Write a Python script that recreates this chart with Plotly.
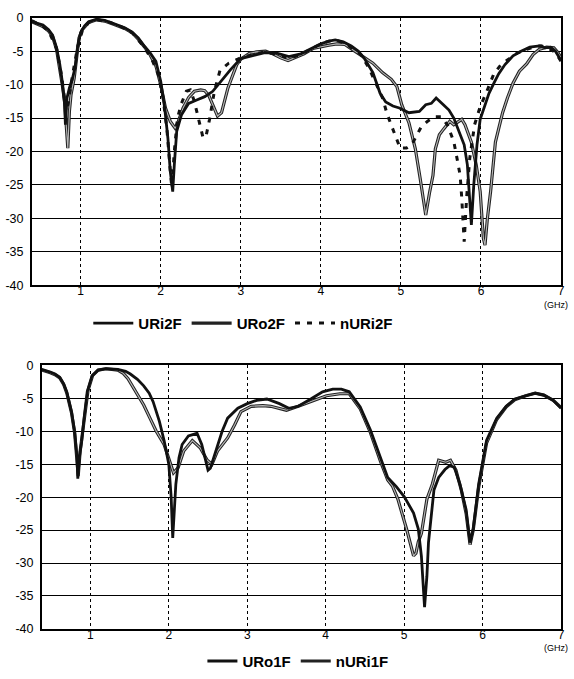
import plotly.graph_objects as go

# ---------------- top chart data ----------------
top_uri2f_x = [0.39,0.45,0.53,0.6,0.65,0.7,0.74,0.77,0.8,0.81,0.83,0.86,0.9,0.93,0.96,1.0,1.05,1.1,1.2,1.3,1.42,1.55,1.64,1.72,1.8,1.87,1.94,2.0,2.05,2.09,2.12,2.15,2.17,2.2,2.26,2.35,2.45,2.55,2.65,2.75,2.87,3.0,3.15,3.3,3.45,3.6,3.75,3.9,4.0,4.1,4.18,4.28,4.38,4.47,4.55,4.65,4.74,4.81,4.9,4.98,5.1,5.23,5.31,5.38,5.44,5.53,5.6,5.66,5.73,5.79,5.83,5.86,5.88,5.91,5.95,5.99,6.05,6.1,6.16,6.22,6.3,6.4,6.5,6.61,6.73,6.8,6.87,6.93,7.0]
top_uri2f_y = [-0.4,-0.8,-1.1,-1.8,-2.6,-4.5,-7,-9.5,-13,-16,-12,-10.5,-9,-7.5,-4.5,-2.2,-1.2,-0.6,-0.2,-0.4,-0.9,-1.5,-2.1,-3.0,-4.3,-5.3,-6.5,-9.5,-13.5,-18,-23,-26,-22,-17,-14.5,-12.8,-12.3,-11.8,-11,-9.5,-7.8,-6.1,-5.6,-5.2,-5.3,-5.8,-5.4,-4.5,-3.9,-3.5,-3.3,-3.6,-4.2,-5,-6.2,-8.2,-11.3,-12.6,-13.2,-13.5,-14.2,-14,-13,-12.8,-12,-13,-13.8,-15,-17,-19,-22,-27,-31,-25,-19,-15.2,-13,-11.3,-9.8,-8.4,-7,-5.7,-5,-4.4,-4.2,-4.5,-4.4,-5,-6.4]

top_uro2f_x = [0.39,0.45,0.53,0.6,0.65,0.7,0.74,0.77,0.8,0.82,0.84,0.86,0.88,0.92,0.95,0.98,1.02,1.1,1.2,1.3,1.42,1.55,1.64,1.72,1.8,1.87,1.94,2.0,2.06,2.12,2.18,2.22,2.28,2.35,2.42,2.5,2.55,2.6,2.66,2.71,2.76,2.8,2.84,2.89,2.95,3.0,3.11,3.2,3.31,3.4,3.5,3.59,3.7,3.79,3.9,4.0,4.1,4.2,4.3,4.4,4.5,4.57,4.65,4.77,4.88,4.95,5.01,5.1,5.18,5.24,5.31,5.36,5.4,5.43,5.48,5.53,5.61,5.66,5.72,5.76,5.8,5.88,5.94,5.99,6.03,6.05,6.08,6.12,6.18,6.27,6.33,6.4,6.48,6.57,6.65,6.73,6.82,6.91,6.96,7.0]
top_uro2f_y = [-0.6,-0.9,-1.3,-2.0,-2.8,-4.8,-7.5,-10,-12.5,-16,-19.5,-14,-11.5,-9,-6,-3,-1.8,-0.7,-0.3,-0.5,-1.0,-1.6,-2.2,-3.2,-4.4,-5.6,-7.2,-10,-13.5,-15.5,-16.5,-15.5,-13.5,-11.9,-11,-10.8,-10.9,-11.6,-13.3,-14.7,-14.2,-12.5,-10.5,-8.9,-7,-6.2,-5.3,-5.1,-5.0,-5.4,-6.0,-6.4,-5.9,-5.4,-4.6,-4.3,-4.1,-3.9,-4.0,-4.8,-5.6,-6.2,-6.8,-8.2,-9.2,-10.3,-13,-15.7,-19.6,-24,-29.5,-26,-23.6,-19.6,-17.5,-16.7,-15.5,-16,-15.5,-15.2,-16,-18.6,-22,-26,-33,-34,-30,-26,-18.6,-14.2,-12,-9.8,-8,-6.9,-5.5,-4.7,-4.4,-4.5,-5.2,-6.0]

top_nuri2f_x = [0.39,0.5,0.6,0.7,0.76,0.8,0.82,0.85,0.9,0.96,1.02,1.1,1.2,1.35,1.5,1.65,1.8,1.9,1.97,2.03,2.08,2.12,2.14,2.17,2.21,2.26,2.32,2.37,2.42,2.48,2.53,2.57,2.61,2.67,2.74,2.85,3.0,3.15,3.3,3.45,3.6,3.75,3.9,4.0,4.1,4.2,4.3,4.4,4.5,4.6,4.7,4.77,4.83,4.9,4.99,5.07,5.14,5.25,5.33,5.42,5.5,5.58,5.66,5.7,5.74,5.76,5.78,5.79,5.82,5.86,5.92,5.99,6.08,6.16,6.25,6.34,6.45,6.55,6.65,6.75,6.85,6.93,7.0]
top_nuri2f_y = [-0.5,-1.0,-2.0,-4.6,-8.5,-12,-14,-12.5,-8.5,-4.5,-2,-0.7,-0.3,-0.6,-1.3,-2.3,-4.5,-6.5,-8.5,-12,-17,-23,-25.5,-20,-15,-12.8,-11,-10.8,-12.5,-15.5,-18,-17.5,-15.2,-11,-7.9,-6.8,-6.0,-5.5,-5.1,-5.5,-6.1,-5.5,-4.5,-3.9,-3.5,-3.4,-3.8,-4.6,-5.5,-7.5,-10,-12,-14.5,-16.8,-19.5,-19.5,-18.9,-16.4,-15.5,-14.8,-14.8,-16,-18.5,-21,-23.6,-27,-30.5,-33.5,-27,-21,-16,-13.3,-10.8,-8.4,-7,-6.2,-5.3,-4.8,-4.4,-4.2,-4.6,-5.2,-6.5]

# ---------------- bottom chart data ----------------
bot_uro1f_x = [0.38,0.45,0.49,0.55,0.61,0.66,0.7,0.76,0.8,0.83,0.84,0.86,0.89,0.92,0.96,1.02,1.1,1.2,1.35,1.45,1.51,1.6,1.68,1.75,1.8,1.88,1.94,2.0,2.03,2.05,2.07,2.09,2.13,2.17,2.25,2.36,2.42,2.47,2.5,2.53,2.56,2.62,2.68,2.75,2.88,3.0,3.12,3.25,3.41,3.53,3.65,3.81,3.96,4.09,4.2,4.3,4.44,4.57,4.7,4.79,4.9,5.0,5.12,5.18,5.22,5.26,5.29,5.31,5.38,5.44,5.52,5.58,5.64,5.71,5.79,5.84,5.88,5.95,6.05,6.18,6.3,6.41,6.55,6.67,6.78,6.9,7.0]
bot_uro1f_y = [-0.6,-0.8,-1.0,-1.3,-1.8,-2.8,-4,-7,-10,-14,-17.2,-14,-11.5,-8,-4,-1.6,-0.7,-0.5,-0.6,-0.9,-1.3,-2.1,-3.1,-4.2,-5.5,-8.5,-11.4,-15,-20,-26.2,-22,-18,-14,-12,-10.7,-10.3,-12,-14.5,-15.9,-15.6,-14.4,-12,-10,-8,-6.5,-5.8,-5.3,-5.1,-5.8,-6.5,-6.2,-5.1,-4,-3.6,-3.6,-4.0,-6.3,-9.8,-14.2,-17,-18.4,-19.9,-22.4,-24.8,-29,-36.7,-32,-26.9,-18.9,-17,-15.8,-15.2,-15.5,-18,-21.9,-26.9,-24.8,-18,-11.4,-8,-6.2,-5.1,-4.6,-4.2,-4.5,-5.3,-6.5]

bot_nuri1f_x = [0.38,0.45,0.49,0.55,0.61,0.66,0.7,0.76,0.8,0.83,0.845,0.87,0.9,0.93,0.97,1.03,1.1,1.2,1.35,1.42,1.48,1.58,1.68,1.76,1.84,1.94,2.02,2.06,2.12,2.19,2.3,2.4,2.49,2.55,2.62,2.68,2.75,2.84,2.92,3.05,3.2,3.3,3.5,3.65,3.81,4.01,4.18,4.3,4.44,4.57,4.7,4.79,4.85,4.92,5.03,5.12,5.15,5.18,5.22,5.29,5.36,5.44,5.53,5.59,5.66,5.73,5.79,5.84,5.88,5.95,6.05,6.18,6.3,6.41,6.55,6.67,6.78,6.9,7.0]
bot_nuri1f_y = [-0.7,-0.9,-1.1,-1.4,-1.9,-2.9,-4.2,-7.2,-10.3,-14.5,-16.8,-13,-10.5,-7.5,-3.8,-1.5,-0.7,-0.5,-0.7,-1.2,-2,-3.9,-6,-8,-10,-12,-15,-16.3,-15.5,-13,-11.4,-12.5,-14.4,-15,-13,-12,-11,-9,-7,-6.2,-6.1,-6.2,-6.8,-6.2,-5.5,-4.6,-4.3,-4.3,-6.6,-10.2,-14.6,-17.4,-18.3,-20.3,-24.8,-28.9,-28.5,-26.8,-25.5,-20.3,-18,-14.4,-14.7,-14.4,-15.9,-19,-22.5,-27.2,-25,-18.5,-11.8,-8.2,-6.3,-5.2,-4.6,-4.2,-4.5,-5.3,-6.4]

x_ticks = [1, 2, 3, 4, 5, 6, 7]
y_ticks = [0, -5, -10, -15, -20, -25, -30, -35, -40]
y_tick_text = ["0", "-5", "-10", "-15", "-20", "-25", "-30", "-35", "-40"]

BLACK = "#111111"
INNER = "#b8b8b8"
FONT = "Liberation Sans, Arial, sans-serif"

fig = go.Figure()

# top chart
fig.add_trace(go.Scatter(x=top_uro2f_x, y=top_uro2f_y, name="URo2F", mode="lines",
                         line=dict(color="#222222", width=3.2), xaxis="x", yaxis="y",
                         legend="legend", legendrank=2))
fig.add_trace(go.Scatter(x=top_uro2f_x, y=top_uro2f_y, name="URo2F", mode="lines",
                         line=dict(color=INNER, width=1.1), xaxis="x", yaxis="y",
                         showlegend=False, hoverinfo="skip"))
fig.add_trace(go.Scatter(x=top_uri2f_x, y=top_uri2f_y, name="URi2F", mode="lines",
                         line=dict(color=BLACK, width=2.8), xaxis="x", yaxis="y",
                         legend="legend", legendrank=1))
fig.add_trace(go.Scatter(x=top_nuri2f_x, y=top_nuri2f_y, name="nURi2F", mode="lines",
                         line=dict(color=BLACK, width=3, dash="5px,7px"), xaxis="x", yaxis="y",
                         legend="legend", legendrank=3))

# bottom chart
fig.add_trace(go.Scatter(x=bot_nuri1f_x, y=bot_nuri1f_y, name="nURi1F", mode="lines",
                         line=dict(color="#222222", width=3.2), xaxis="x2", yaxis="y2",
                         legend="legend2", legendrank=2))
fig.add_trace(go.Scatter(x=bot_nuri1f_x, y=bot_nuri1f_y, name="nURi1F", mode="lines",
                         line=dict(color=INNER, width=1.1), xaxis="x2", yaxis="y2",
                         showlegend=False, hoverinfo="skip"))
fig.add_trace(go.Scatter(x=bot_uro1f_x, y=bot_uro1f_y, name="URo1F", mode="lines",
                         line=dict(color=BLACK, width=2.8), xaxis="x2", yaxis="y2",
                         legend="legend2", legendrank=1))

W, H = 574, 679

def xaxis(dom, rng, anchor):
    return dict(domain=dom, range=rng, anchor=anchor, tickmode="array", tickvals=x_ticks,
                ticks="", showgrid=True, gridcolor="#000000", gridwidth=1.2, griddash="dot",
                showline=True, linecolor="#000000", linewidth=1.5, mirror=True, zeroline=False,
                tickfont=dict(family=FONT, size=12, color="#000000"), ticklabelstandoff=-6)

def yaxis(dom, anchor):
    return dict(domain=dom, range=[-40, 0], anchor=anchor, tickmode="array", tickvals=y_ticks,
                ticktext=y_tick_text, ticks="", showgrid=True, gridcolor="#000000", gridwidth=1.3,
                showline=True, linecolor="#000000", linewidth=1.5, mirror=True, zeroline=False,
                tickfont=dict(family=FONT, size=12.5, color="#000000"), ticklabelstandoff=4)

legend_font = dict(family=FONT, size=15, color="#000000", weight="bold")

fig.update_layout(
    width=W, height=H,
    margin=dict(l=0, r=0, t=0, b=0),
    paper_bgcolor="white", plot_bgcolor="white",
    font=dict(family=FONT, color="#000000"),
    xaxis=xaxis([32 / W, 565 / W], [0.39, 7], "y"),
    yaxis=yaxis([1 - 284 / H, 1 - 11 / H], "x"),
    xaxis2=xaxis([42 / W, 565 / W], [0.38, 7], "y2"),
    yaxis2=yaxis([1 - 635 / H, 1 - 366 / H], "x2"),
    legend=dict(orientation="h", x=245 / W, y=1 - 323 / H, xanchor="center", yanchor="middle",
                font=legend_font, bgcolor="rgba(0,0,0,0)", itemwidth=40, tracegroupgap=0),
    legend2=dict(orientation="h", x=300 / W, y=1 - 668 / H, xanchor="center", yanchor="middle",
                 font=legend_font, bgcolor="rgba(0,0,0,0)", itemwidth=30, tracegroupgap=0),
    annotations=[
        dict(text="(GHz)", x=560 / W, y=1 - 304 / H, xref="paper", yref="paper", showarrow=False,
             xanchor="center", yanchor="middle", font=dict(family=FONT, size=9, color="#000000")),
        dict(text="(GHz)", x=560 / W, y=1 - 654 / H, xref="paper", yref="paper", showarrow=False,
             xanchor="center", yanchor="middle", font=dict(family=FONT, size=9, color="#000000")),
    ],
)

fig.write_html("out.html")
